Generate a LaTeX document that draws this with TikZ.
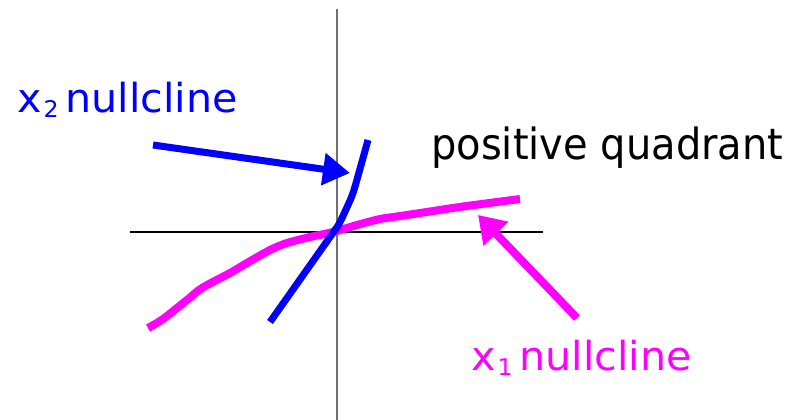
\documentclass[tikz,border=0pt]{standalone}
\usepackage{fontspec}
\setmainfont{DejaVu Sans}
\newfontfamily\xlfont[FakeStretch=1.03]{DejaVu Sans}
\newfontfamily\pqfont[FakeStretch=0.93]{DejaVu Sans}
\usetikzlibrary{arrows.meta}
\definecolor{nblue}{HTML}{0000FF}
\definecolor{nmag}{HTML}{FF00FF}
\definecolor{axgray}{HTML}{707070}
\tikzset{
  xlbl/.style={inner sep=0pt, anchor=base west, font=\xlfont\fontsize{40}{44}\selectfont},
  pqlbl/.style={inner sep=0pt, anchor=base west, font=\pqfont\fontsize{43}{46}\selectfont},
  xaxis/.style={black, line width=1.3pt},
  yaxis/.style={axgray, line width=2pt},
  bluecurve/.style={nblue, line width=7pt},
  magcurve/.style={nmag, line width=8pt},
  bluearrow/.style={nblue, line width=7pt, -{Triangle[length=27pt,width=31pt]}},
  magarrow/.style={nmag, line width=8pt, -{Triangle[length=26pt,width=33pt]}}
}
\newcommand{\subtxt}[1]{\kern2pt\raisebox{-5pt}{\fontsize{23}{25}\selectfont #1}\kern7pt}
\begin{document}
\begin{tikzpicture}[x=1pt,y=-1pt]
\useasboundingbox (0,0) rectangle (800,420);
% axes
\coordinate (xl) at (130,232);
\coordinate (xr) at (543,232);
\coordinate (yt) at (337,9);
\coordinate (yb) at (337,420);
\draw[xaxis] (xl) -- (xr);
\draw[yaxis] (yt) -- (yb);
% x1 nullcline (magenta)
\draw[magcurve] plot[smooth, tension=0.5] coordinates {
 (148,328) (163,319) (187,300) (202,288) (230,273) (247,263) (270,250)
 (287,243) (310,237) (333,232) (357,225) (380,219) (397,216.5)
 (430,211.5) (463,206.5) (520,199)};
% x2 nullcline (blue)
\draw[bluecurve] plot[smooth, tension=0.4] coordinates {
 (270,322) (330,237) (339,224) (348,205) (354,190) (368,140)};
% labels
\node[xlbl, text=nblue] (lx2) at (17,112) {x\subtxt{2}nullcline};
\node[pqlbl, text=black] (lpq) at (431,159.5) {positive quadrant};
\node[xlbl, text=nmag] (lx1) at (471,370) {x\subtxt{1}nullcline};
% arrows
\coordinate (bs) at (153,145);
\coordinate (bt) at (350,173);
\coordinate (ms) at (577,318);
\coordinate (mt) at (478,215);
\draw[bluearrow] (bs) -- (bt);
\draw[magarrow] (ms) -- (mt);
\end{tikzpicture}
\end{document}
